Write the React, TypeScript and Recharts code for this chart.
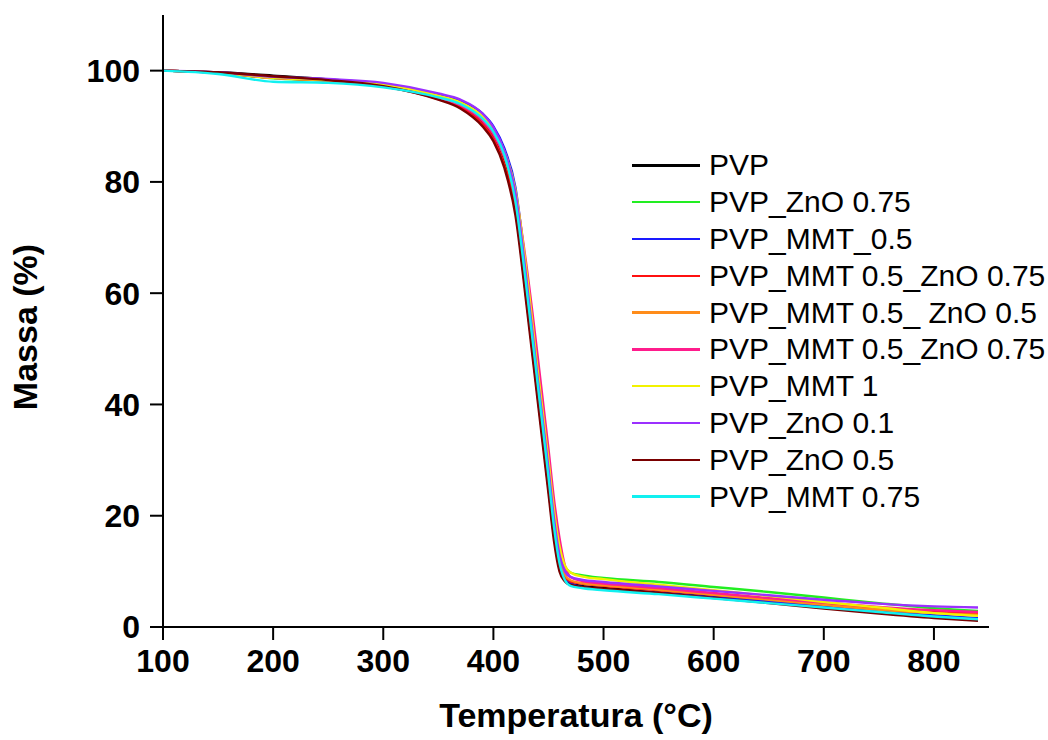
import { LineChart, Line, XAxis, YAxis, Label } from "recharts";

// temperature grid (°C) shared by every curve
const temps = [
  100, 150, 200, 250, 300, 350, 370, 390, 400, 410, 420, 430, 440, 450, 455,
  460, 465, 470, 480, 500, 550, 600, 650, 700, 750, 800, 840,
];

const pvp = [
  100, 99.7, 99.1, 98.4, 97.4, 95.2, 93.8, 90.8, 88.2, 83.5, 75, 59, 42, 25,
  16.5, 10.5, 8.4, 7.8, 7.4, 7.0, 6.2, 5.4, 4.7, 4.0, 3.3, 2.8, 2.6,
];
const zno075 = [
  100, 99.6, 98.6, 98.2, 97.3, 95.3, 94, 91.2, 88.8, 84.5, 77.5, 62.5, 45,
  28.5, 20, 13.5, 10.8, 9.8, 9.3, 8.8, 8.1, 7.2, 6.3, 5.3, 4.3, 3.4, 2.9,
];
const mmt05 = [
  100, 99.6, 98.8, 98.4, 97.6, 95.7, 94.6, 92.3, 90, 86, 79, 63.5, 45.5, 29,
  20, 13, 9.3, 7.8, 7.2, 6.8, 6.1, 5.3, 4.6, 3.8, 2.9, 2.1, 1.6,
];
const mmt05zno075a = [
  100, 99.6, 98.7, 98.2, 97.2, 94.9, 93.4, 90.4, 87.8, 83, 75.5, 60, 43, 26,
  17.5, 11.5, 9, 8.2, 7.8, 7.4, 6.6, 5.8, 5.0, 4.2, 3.4, 2.8, 2.5,
];
const mmt05zno05 = [
  100, 99.6, 98.7, 98.3, 97.4, 95.3, 94, 91.3, 88.9, 84.5, 77, 62, 44.5, 27.5,
  19, 12.5, 9.4, 8.4, 7.9, 7.5, 6.7, 5.8, 4.9, 4.0, 3.1, 2.5, 2.2,
];
const mmt05zno075b = [
  100, 99.6, 98.7, 98.3, 97.3, 95.1, 93.8, 91, 88.6, 84.5, 78, 65, 49, 32, 23,
  16, 11, 9, 8.3, 7.8, 7.0, 6.1, 5.2, 4.4, 3.6, 3.0, 2.7,
];
const mmt1 = [
  100, 99.6, 98.7, 98.3, 97.5, 95.5, 94.3, 91.8, 89.5, 85.5, 78.5, 64, 46.5,
  30, 21, 14.5, 11, 9.8, 9.1, 8.6, 7.6, 6.6, 5.6, 4.5, 3.5, 2.5, 2.0,
];
const zno01 = [
  100, 99.7, 98.9, 98.5, 97.8, 95.9, 94.8, 92.3, 89.8, 85.5, 78, 62.5, 45,
  28.5, 19.5, 13, 10, 9, 8.5, 8.1, 7.3, 6.5, 5.7, 4.9, 4.2, 3.7, 3.5,
];
const zno05 = [
  100, 99.7, 99.0, 98.3, 97.2, 94.8, 93.2, 90, 87.3, 82.5, 74, 58, 41, 24,
  15.5, 10, 8.2, 7.6, 7.2, 6.9, 6.1, 5.2, 4.3, 3.3, 2.4, 1.6, 1.1,
];
const mmt075 = [
  100, 99.4, 98.0, 97.8, 97.0, 95.2, 94, 91.4, 89, 84.8, 76.5, 61, 44, 27, 18,
  11.5, 8.4, 7.4, 7.0, 6.6, 5.9, 5.1, 4.3, 3.5, 2.7, 1.9, 1.4,
];

const xTicks = [100, 200, 300, 400, 500, 600, 700, 800];
const yTicks = [0, 20, 40, 60, 80, 100];

const series = [
  { key: "s1", name: "PVP", color: "#000000", values: pvp },
  { key: "s2", name: "PVP_ZnO 0.75", color: "#22ee22", values: zno075 },
  { key: "s3", name: "PVP_MMT_0.5", color: "#1a1aff", values: mmt05 },
  { key: "s4", name: "PVP_MMT 0.5_ZnO 0.75", color: "#ff1010", values: mmt05zno075a },
  { key: "s5", name: "PVP_MMT 0.5_ ZnO 0.5", color: "#ff8c1a", values: mmt05zno05 },
  { key: "s6", name: "PVP_MMT 0.5_ZnO 0.75", color: "#ff1c8c", values: mmt05zno075b },
  { key: "s7", name: "PVP_MMT 1", color: "#f2f200", values: mmt1 },
  { key: "s8", name: "PVP_ZnO 0.1", color: "#9b30ff", values: zno01 },
  { key: "s9", name: "PVP_ZnO 0.5", color: "#7a0000", values: zno05 },
  { key: "s10", name: "PVP_MMT 0.75", color: "#11f0f0", values: mmt075 },
];

const data = temps.map((t, i) => {
  const row: Record<string, number> = { t };
  series.forEach((s) => (row[s.key] = s.values[i]));
  return row;
});

const FONT = "'Liberation Sans', Arial, sans-serif";
const tickStyle = { fontSize: 32, fontWeight: 700, fill: "#000", fontFamily: FONT };
const titleStyle = { fontSize: 34, fontWeight: 700, fill: "#000", fontFamily: FONT };

export default function App() {
  return (
    <div style={{ position: "absolute", left: 0, top: 0, width: 1048, height: 740, background: "#fff" }}>
      <LineChart
        width={1048}
        height={740}
        data={data}
        margin={{ top: 15, right: 59, left: 0, bottom: 0 }}
      >
        <XAxis
          dataKey="t"
          type="number"
          domain={[100, 850]}
          ticks={xTicks}
          height={113}
          tickSize={13}
          tickMargin={9}
          stroke="#000"
          strokeWidth={2}
          tick={tickStyle}
        >
          <Label value="Temperatura (°C)" position="insideBottom" offset={13} style={titleStyle} />
        </XAxis>
        <YAxis
          type="number"
          domain={[0, 110]}
          ticks={yTicks}
          width={163}
          tickSize={13}
          tickMargin={10}
          stroke="#000"
          strokeWidth={2}
          tick={tickStyle}
        >
          <Label
            content={() => (
              <text x={37} y={327} transform="rotate(-90 37 327)" textAnchor="middle" style={titleStyle}>
                Massa (%)
              </text>
            )}
          />
        </YAxis>
        {series.map((s) => (
          <Line
            key={s.key}
            dataKey={s.key}
            type="monotone"
            stroke={s.color}
            strokeWidth={2.4}
            dot={false}
            isAnimationActive={false}
          />
        ))}
      </LineChart>

      {/* legend drawn over the empty right side of the plot */}
      <div
        style={{
          position: "absolute",
          left: 632,
          top: 147,
          fontFamily: FONT,
          fontSize: 30,
          color: "#000",
        }}
      >
        {series.map((s) => (
          <div key={s.key} style={{ display: "flex", alignItems: "center", height: 36.8, whiteSpace: "nowrap" }}>
            <span style={{ display: "inline-block", width: 68, height: 2.5, background: s.color, marginRight: 9 }} />
            <span>{s.name}</span>
          </div>
        ))}
      </div>
    </div>
  );
}
